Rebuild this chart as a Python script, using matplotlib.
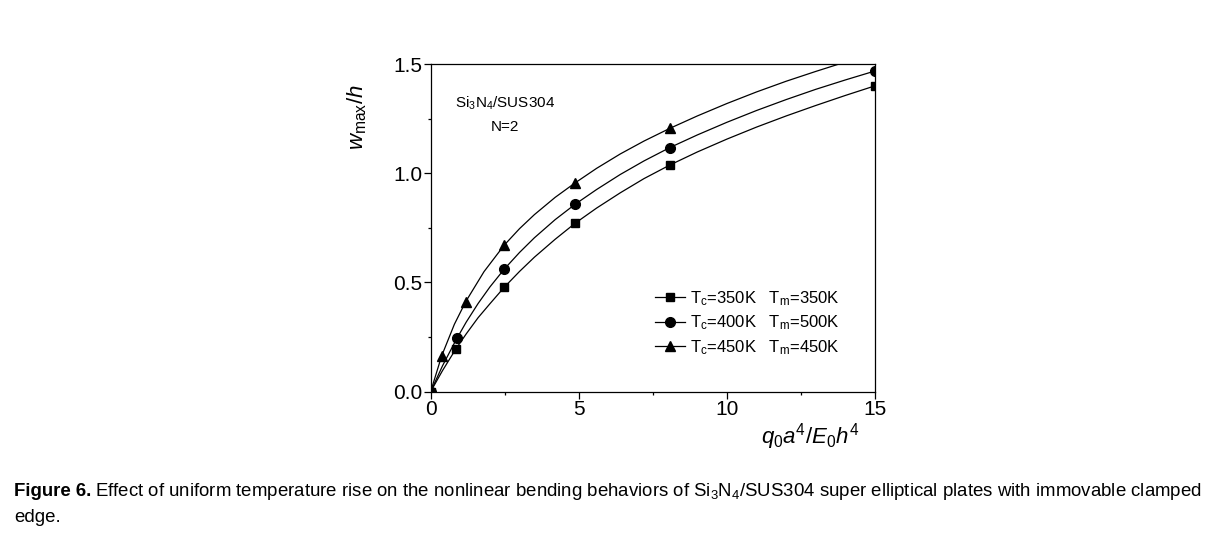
import matplotlib
matplotlib.use("Agg")
import matplotlib.pyplot as plt
from matplotlib import font_manager

# marker data
x_sq = [0, 0.85, 2.48, 4.87, 8.07, 15]
y_sq = [0, 0.195, 0.477, 0.770, 1.037, 1.400]
x_ci = [0, 0.88, 2.48, 4.87, 8.07, 15]
y_ci = [0, 0.244, 0.560, 0.857, 1.117, 1.468]
x_tr = [0, 0.37, 1.18, 2.48, 4.87, 8.07]
y_tr = [0, 0.163, 0.411, 0.670, 0.955, 1.205]

# fitted curves
cx = [0, 0.4, 0.85, 1.2, 1.6, 2.0, 2.48, 3.0, 3.5, 4.2, 4.87, 5.6, 6.4, 7.2, 8.07,
      9, 10, 11, 12, 13, 14, 15]
cy_sq = [0, 0.096, 0.195, 0.264, 0.338, 0.402, 0.477, 0.550, 0.615, 0.697, 0.770,
         0.840, 0.910, 0.975, 1.037, 1.097, 1.156, 1.211, 1.262, 1.310, 1.356, 1.400]
cy_ci = [0, 0.118, 0.235, 0.318, 0.403, 0.479, 0.560, 0.637, 0.704, 0.787, 0.857,
         0.925, 0.994, 1.056, 1.117, 1.175, 1.233, 1.287, 1.337, 1.384, 1.427, 1.468]
cx_tr = [0, 0.37, 0.8, 1.18, 1.8, 2.48, 3.0, 3.5, 4.2, 4.87, 5.6, 6.4, 7.2, 8.07,
         9, 10, 11, 12, 13, 14]
cy_tr = [0, 0.163, 0.308, 0.411, 0.549, 0.670, 0.746, 0.810, 0.889, 0.955, 1.022,
         1.088, 1.147, 1.205, 1.262, 1.319, 1.372, 1.421, 1.466, 1.509]

labels = [r"T$_{\rm c}$=350K   T$_{\rm m}$=350K",
          r"T$_{\rm c}$=400K   T$_{\rm m}$=500K",
          r"T$_{\rm c}$=450K   T$_{\rm m}$=450K"]

names = {f.name for f in font_manager.fontManager.ttflist}
cap_font = "Liberation Sans Narrow" if "Liberation Sans Narrow" in names else "Liberation Sans"

plt.rcParams['font.family'] = ['Liberation Sans', 'DejaVu Sans']
plt.rcParams['mathtext.fontset'] = 'custom'
plt.rcParams['mathtext.rm'] = 'Liberation Sans'
plt.rcParams['mathtext.it'] = 'Liberation Sans:italic'
plt.rcParams['mathtext.bf'] = 'Liberation Sans:bold'

W, H = 1218, 533
fig = plt.figure(figsize=(W / 100, H / 100), dpi=100)
ax = fig.add_axes([430.7 / W, 1 - 391.5 / H, 444.3 / W, 327.5 / H])

handles = []
for xs, cy, mx, my, m, ms in [(cx, cy_sq, x_sq, y_sq, 's', 6),
                              (cx, cy_ci, x_ci, y_ci, 'o', 7),
                              (cx_tr, cy_tr, x_tr, y_tr, '^', 7.5)]:
    ln, = ax.plot(xs, cy, color='k', lw=0.9)
    mk, = ax.plot(mx, my, ls='none', marker=m, ms=ms, color='k')
    handles.append((ln, mk))

ax.set_xlim(0, 15)
ax.set_ylim(0, 1.5)
ax.set_xticks([0, 5, 10, 15])
ax.set_xticks([2.5, 7.5, 12.5], minor=True)
ax.set_yticks([0, 0.5, 1.0, 1.5])
ax.set_yticks([0.25, 0.75, 1.25], minor=True)
ax.set_yticklabels(['0.0', '0.5', '1.0', '1.5'])
ax.tick_params(which='major', direction='out', length=5, width=0.9, labelsize=15, pad=1)
ax.tick_params(which='minor', direction='out', length=2.5, width=0.9)
for s in ax.spines.values():
    s.set_linewidth(0.9)

ax.legend(handles, labels, loc='upper left', bbox_to_anchor=(655 / W, 1 - 289 / H),
          bbox_transform=fig.transFigure, frameon=False, fontsize=12,
          handlelength=1.8, handletextpad=0.3, labelspacing=0.35,
          borderpad=0, borderaxespad=0)

fig.text(505 / W, 1 - 103 / H, r"Si$_3$N$_4$/SUS304", ha='center', va='center', fontsize=11)
fig.text(505 / W, 1 - 127 / H, "N=2", ha='center', va='center', fontsize=11)

fig.text(357 / W, 1 - 117 / H, r"$w_{\rm max}/h$", rotation=90, ha='center', va='center',
         fontsize=16)
fig.text(810 / W, 1 - 437 / H, r"$q_0a^4/E_0h^4$", ha='center', va='center', fontsize=16)

# caption: bold lead-in, then the rest right after it
t1 = fig.text(14 / W, 1 - 491 / H, "Figure 6.", ha='left', va='center', fontsize=13.4,
              family=cap_font, weight='bold')
fig.canvas.draw()
bb = t1.get_window_extent()
fig.text((bb.x1 + 4) / W, 1 - 491 / H,
         r"Effect of uniform temperature rise on the nonlinear bending "
         r"behaviors of Si$_3$N$_4$/SUS304 super elliptical plates with immovable clamped",
         ha='left', va='center', fontsize=13.4, family=cap_font)
fig.text(14 / W, 1 - 517 / H, "edge.", ha='left', va='center', fontsize=13.4, family=cap_font)

fig.savefig("out.png", dpi=100)
